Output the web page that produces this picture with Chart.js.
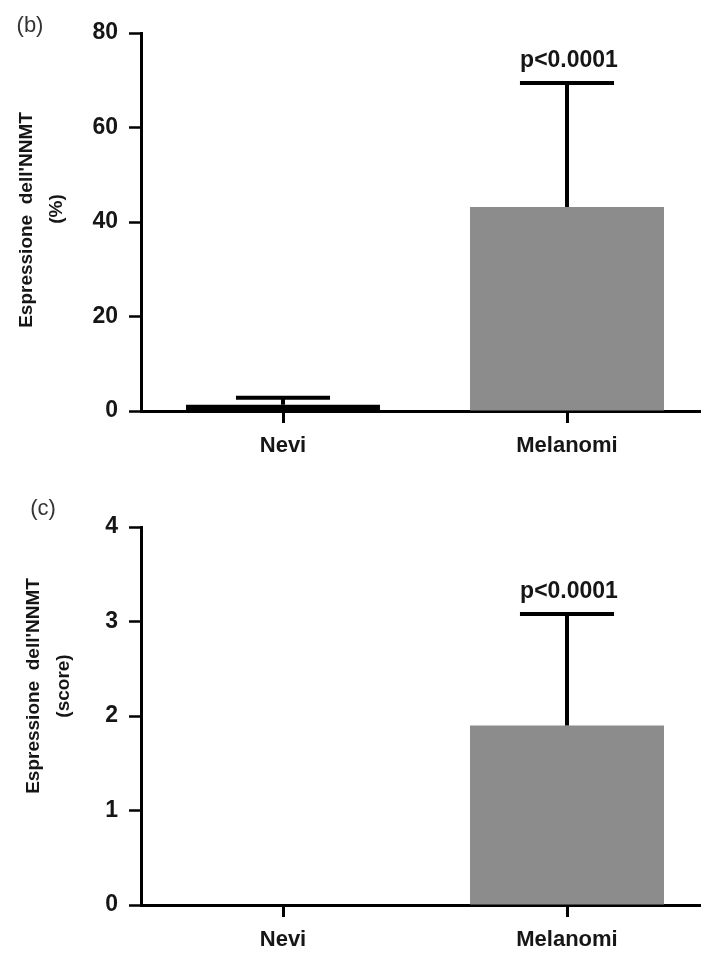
<!DOCTYPE html>
<html>
<head>
<meta charset="utf-8">
<script src="https://cdn.jsdelivr.net/npm/chart.js@4.4.0/dist/chart.umd.min.js"></script>
<style>
  html, body { margin: 0; padding: 0; background: #fff; overflow: hidden; }
  #page { position: relative; width: 701px; height: 954px; overflow: hidden; }
  canvas { position: absolute; left: 0; }
  #chart-b { top: 0; }
  #chart-c { top: 494px; }
</style>
</head>
<body>
<div id="page">
  <canvas id="chart-b" width="720" height="460"></canvas>
  <canvas id="chart-c" width="720" height="460"></canvas>
</div>
<script>
// Data
const categories = ['Nevi', 'Melanomi'];
const percentMeans = [1.3, 43.2];
const percentSD = [1.5, 26.2];
const percentTicks = [0, 20, 40, 60, 80];
const scoreMeans = [0, 1.9];
const scoreSD = [0, 1.18];
const scoreTicks = [0, 1, 2, 3, 4];
const pLabels = ['', 'p<0.0001'];

const FONT = "'Liberation Sans', Arial, sans-serif";
const INK = '#161616';

// error bars (upper only), p-values, panel letter and y title
const extrasPlugin = {
    id: 'extras',
    afterDatasetsDraw(chart, args, opts) {
        const ctx = chart.ctx;
        const xs = chart.scales.x, ys = chart.scales.y;
        const meta = chart.getDatasetMeta(0);
        ctx.save();
        ctx.strokeStyle = '#000';
        ctx.fillStyle = INK;
        ctx.lineWidth = 4;
        opts.sd.forEach((sd, i) => {
            if (!sd) return;
            const x = xs.getPixelForValue(i);
            const yMean = ys.getPixelForValue(opts.means[i]);
            const yTop = ys.getPixelForValue(opts.means[i] + sd);
            const half = meta.data[i].width * 0.2425;
            ctx.beginPath();
            ctx.moveTo(x, yMean);
            ctx.lineTo(x, yTop);
            ctx.moveTo(x - half, yTop);
            ctx.lineTo(x + half, yTop);
            ctx.stroke();
            if (pLabels[i]) {
                ctx.font = `bold 23px ${FONT}`;
                ctx.textAlign = 'center';
                ctx.textBaseline = 'alphabetic';
                ctx.fillText(pLabels[i], x + 2, yTop - 16);
            }
        });

        // panel letter
        ctx.font = `22px ${FONT}`;
        ctx.fillStyle = '#333';
        ctx.textAlign = 'center';
        ctx.textBaseline = 'middle';
        ctx.fillText(opts.panel.text, opts.panel.x, opts.panel.y);

        // rotated y-axis title, two lines
        ctx.fillStyle = INK;
        ctx.font = `bold 19px ${FONT}`;
        opts.title.forEach(t => {
            ctx.save();
            ctx.translate(t.x, t.y);
            ctx.rotate(-Math.PI / 2);
            ctx.fillText(t.text, 0, 0);
            ctx.restore();
        });
        ctx.restore();
    }
};

function makeChart(id, means, sd, ticks, extras) {
    const ctx = document.getElementById(id).getContext('2d');
    return new Chart(ctx, {
        type: 'bar',
        data: {
            labels: categories,
            datasets: [{
                data: means,
                backgroundColor: ['#000000', '#8c8c8c'],
                borderWidth: 0,
                categoryPercentage: 1,
                barPercentage: 0.683
            }]
        },
        options: {
            responsive: false,
            animation: false,
            layout: { padding: { top: 33, right: 11, left: 0, bottom: 0 } },
            plugins: {
                legend: { display: false },
                tooltip: { enabled: false },
                extras: Object.assign({ means: means, sd: sd }, extras)
            },
            scales: {
                x: {
                    z: 1,
                    grid: { offset: false, drawOnChartArea: false, tickLength: 12, tickWidth: 3, tickColor: '#000' },
                    border: { color: '#000', width: 3 },
                    ticks: { font: { family: FONT, size: 22, weight: 'bold' }, color: INK, padding: 10 },
                    afterFit: s => { s.height = 49; }
                },
                y: {
                    min: ticks[0],
                    max: ticks[ticks.length - 1],
                    grid: { drawOnChartArea: false, tickLength: 12, tickWidth: 2.5, tickColor: '#000' },
                    border: { color: '#000', width: 3 },
                    ticks: { font: { family: FONT, size: 23, weight: 'bold' }, color: INK, padding: 11 },
                    afterBuildTicks: s => { s.ticks = ticks.map(v => ({ value: v })); },
                    afterFit: s => { s.width = 141; }
                }
            }
        },
        plugins: [extrasPlugin]
    });
}

makeChart('chart-b', percentMeans, percentSD, percentTicks, {
    panel: { text: '(b)', x: 30, y: 26 },
    title: [
        { text: "Espressione  dell'NNMT", x: 27, y: 220 },
        { text: '(%)', x: 57, y: 209 }
    ]
});

makeChart('chart-c', scoreMeans, scoreSD, scoreTicks, {
    panel: { text: '(c)', x: 43, y: 15 },
    title: [
        { text: "Espressione  dell'NNMT", x: 34, y: 192 },
        { text: '(score)', x: 64, y: 192 }
    ]
});
</script>
</body>
</html>
